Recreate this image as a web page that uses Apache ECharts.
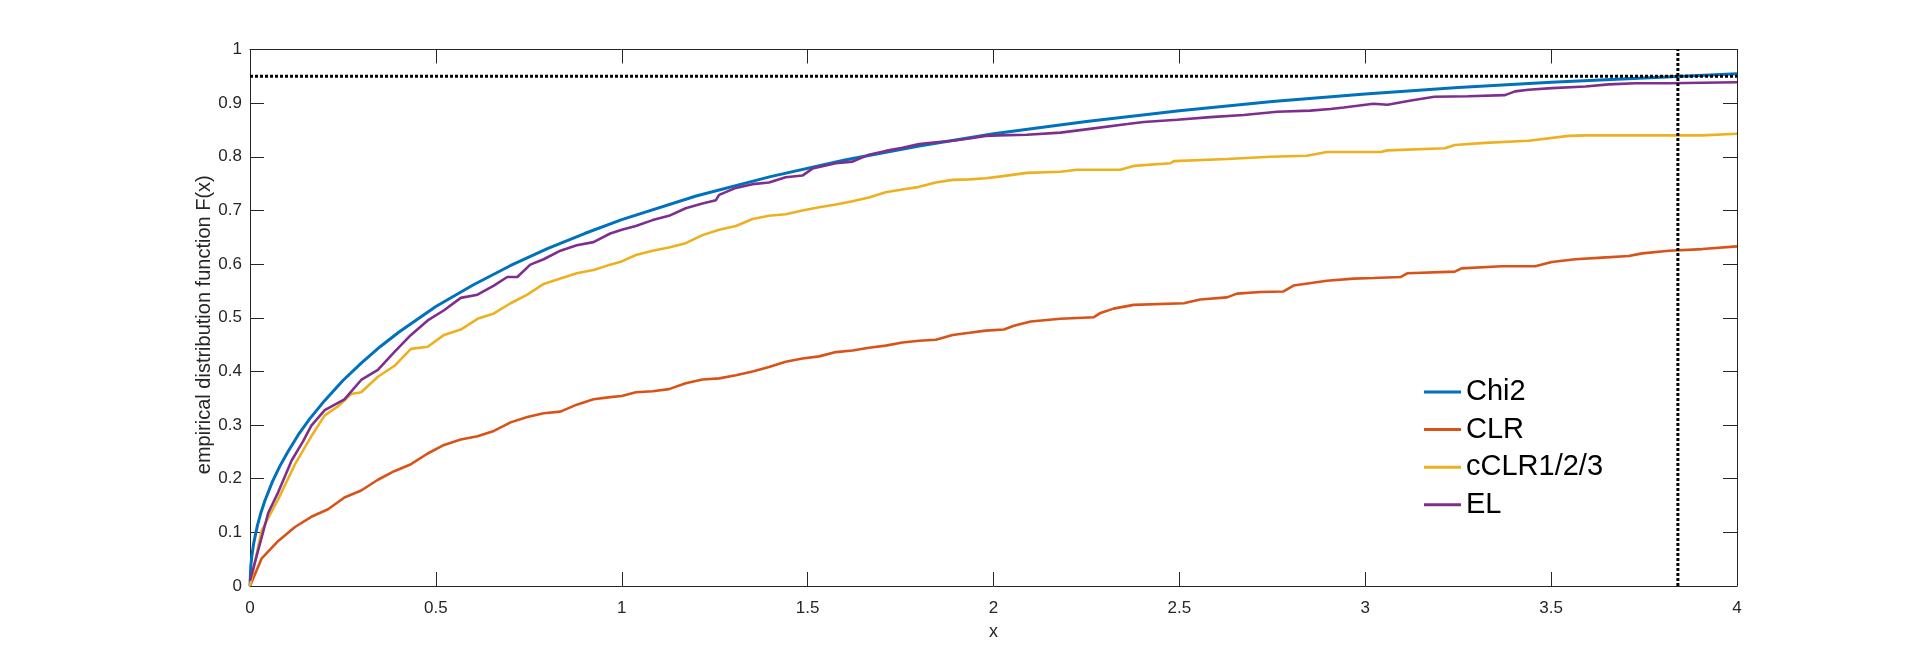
<!DOCTYPE html>
<html>
<head>
<meta charset="utf-8">
<script src="https://cdn.jsdelivr.net/npm/echarts@6/dist/echarts.min.js"></script>
<style>
html,body{margin:0;padding:0;background:#fff;}
#chart{width:1920px;height:659px;}
</style>
</head>
<body>
<div id="chart"></div>
<script>
// ---------- data ----------
const seriesNames = ['Chi2', 'CLR', 'cCLR1/2/3', 'EL'];
const xTicks = [0, 0.5, 1, 1.5, 2, 2.5, 3, 3.5, 4];
const yTicks = [0, 0.1, 0.2, 0.3, 0.4, 0.5, 0.6, 0.7, 0.8, 0.9, 1];

const chiX = [0,0.002,0.005,0.01,0.02,0.03,0.04,0.06,0.08,0.1,0.13,0.16,0.2,0.25,0.3,0.35,0.4,0.5,0.6,0.7,0.8,0.9,1.0,1.2,1.4,1.6,1.8,2.0,2.25,2.5,2.75,3.0,3.25,3.5,3.75,4.0];
const chiY = [0,0.036,0.056,0.080,0.113,0.138,0.159,0.194,0.223,0.248,0.282,0.311,0.345,0.383,0.416,0.446,0.473,0.521,0.561,0.597,0.629,0.657,0.683,0.727,0.763,0.794,0.820,0.843,0.866,0.886,0.903,0.917,0.929,0.939,0.947,0.955];

const clrX = [0,0.031,0.076,0.121,0.165,0.210,0.254,0.299,0.344,0.388,0.433,0.478,0.522,0.567,0.612,0.656,0.701,0.746,0.790,0.835,0.879,0.924,0.969,1.0,1.038,1.083,1.127,1.172,1.217,1.262,1.307,1.352,1.396,1.441,1.486,1.531,1.576,1.621,1.665,1.710,1.755,1.800,1.845,1.890,1.935,1.979,2.028,2.055,2.10,2.18,2.27,2.288,2.323,2.377,2.512,2.556,2.628,2.655,2.718,2.78,2.807,2.897,2.969,3.022,3.096,3.114,3.241,3.259,3.367,3.457,3.502,3.565,3.637,3.709,3.745,3.817,3.907,4.0];
const clrY = [0,0.051,0.084,0.110,0.129,0.143,0.165,0.178,0.198,0.214,0.227,0.247,0.263,0.273,0.279,0.289,0.305,0.315,0.322,0.325,0.338,0.348,0.352,0.354,0.361,0.363,0.367,0.378,0.385,0.387,0.393,0.400,0.408,0.418,0.424,0.428,0.436,0.439,0.444,0.448,0.454,0.457,0.459,0.468,0.472,0.476,0.478,0.485,0.493,0.498,0.501,0.509,0.517,0.524,0.527,0.534,0.538,0.545,0.548,0.549,0.560,0.569,0.573,0.574,0.576,0.583,0.586,0.592,0.596,0.596,0.604,0.609,0.612,0.615,0.620,0.625,0.628,0.633];

const cclrX = [0,0.031,0.076,0.121,0.165,0.201,0.237,0.272,0.299,0.344,0.388,0.433,0.478,0.522,0.567,0.612,0.656,0.701,0.746,0.790,0.835,0.879,0.924,0.969,1.0,1.038,1.083,1.127,1.172,1.217,1.262,1.307,1.352,1.396,1.441,1.486,1.531,1.576,1.621,1.665,1.710,1.755,1.800,1.845,1.890,1.935,1.979,2.015,2.09,2.18,2.225,2.341,2.377,2.476,2.485,2.628,2.745,2.843,2.897,3.042,3.06,3.214,3.241,3.322,3.439,3.547,3.592,3.907,4.0];
const cclrY = [0,0.103,0.162,0.227,0.279,0.318,0.335,0.358,0.361,0.390,0.410,0.442,0.446,0.468,0.478,0.498,0.508,0.527,0.543,0.563,0.573,0.583,0.589,0.599,0.605,0.617,0.625,0.631,0.639,0.654,0.664,0.671,0.684,0.690,0.693,0.700,0.706,0.711,0.717,0.724,0.734,0.739,0.744,0.752,0.757,0.758,0.760,0.763,0.770,0.772,0.776,0.776,0.783,0.788,0.792,0.796,0.800,0.802,0.809,0.809,0.812,0.816,0.822,0.826,0.830,0.839,0.840,0.840,0.843];

const elX = [0,0.049,0.076,0.112,0.143,0.165,0.201,0.254,0.299,0.344,0.388,0.433,0.478,0.522,0.567,0.612,0.656,0.692,0.719,0.754,0.790,0.835,0.879,0.924,0.969,1.0,1.038,1.083,1.127,1.172,1.217,1.253,1.262,1.307,1.352,1.396,1.441,1.486,1.513,1.576,1.621,1.665,1.710,1.755,1.800,1.845,1.890,1.935,1.979,2.015,2.09,2.18,2.27,2.36,2.404,2.494,2.583,2.673,2.763,2.852,2.906,2.942,3.022,3.06,3.123,3.186,3.277,3.376,3.403,3.439,3.502,3.592,3.655,3.727,3.817,3.907,4.0];
const elY = [0.01,0.136,0.175,0.234,0.270,0.299,0.328,0.348,0.384,0.403,0.436,0.468,0.495,0.514,0.537,0.543,0.560,0.576,0.576,0.599,0.609,0.625,0.635,0.641,0.657,0.664,0.671,0.682,0.690,0.704,0.713,0.719,0.729,0.742,0.749,0.752,0.762,0.765,0.778,0.788,0.791,0.804,0.811,0.817,0.824,0.827,0.830,0.834,0.839,0.840,0.841,0.845,0.853,0.861,0.865,0.869,0.874,0.878,0.884,0.886,0.889,0.892,0.899,0.897,0.905,0.912,0.913,0.915,0.922,0.925,0.928,0.931,0.935,0.937,0.937,0.938,0.939];

const refLevel = 0.95;      // horizontal dotted line
const critValue = 3.841;    // vertical dotted line
const xRange = [0, 4];
const yRange = [0, 1];

// ---------- chart ----------
const colors = ['#0072BD', '#D95319', '#EDB120', '#7E2F8E'];
const zip = (xs, ys) => xs.map((x, i) => [x, ys[i]]);
const textColor = '#262626';
const font = 'Liberation Sans, Arial, Helvetica, sans-serif';

const chart = echarts.init(document.getElementById('chart'), null, {renderer: 'canvas'});

const axisCommon = () => ({
  axisLine: {show: true, onZero: false, lineStyle: {color: textColor, width: 1}},
  axisTick: {show: true, inside: true, length: 14, lineStyle: {color: textColor, width: 1}},
  splitLine: {show: false}
});

const lineSeries = (name, data, color, width, z) => ({
  name, type: 'line', data, showSymbol: false, symbol: 'none',
  lineStyle: {color, width}, itemStyle: {color}, z, animation: false,
  smooth: false
});

chart.setOption({
  animation: false,
  backgroundColor: '#ffffff',
  grid: {left: 250, right: 183, top: 49.5, bottom: 73, containLabel: false},
  xAxis: [
    Object.assign({
      type: 'value', min: xRange[0], max: xRange[1], interval: 0.5, position: 'bottom',
      name: 'x', nameLocation: 'middle', nameGap: 37,
      nameTextStyle: {color: textColor, fontSize: 18, fontFamily: font},
      axisLabel: {color: textColor, fontSize: 17, fontFamily: font, margin: 14,
        formatter: v => String(v)}
    }, axisCommon()),
    Object.assign({
      type: 'value', min: xRange[0], max: xRange[1], interval: 0.5, position: 'top',
      axisLabel: {show: false}
    }, axisCommon())
  ],
  yAxis: [
    Object.assign({
      type: 'value', min: yRange[0], max: yRange[1], interval: 0.1, position: 'left',
      name: 'empirical distribution function F(x)', nameLocation: 'middle', nameGap: 36,
      nameMoveOverlap: false,
      nameTextStyle: {color: textColor, fontSize: 20, fontFamily: font, padding: [0, 14, 0, 0]},
      axisLabel: {color: textColor, fontSize: 17, fontFamily: font, margin: 8,
        formatter: v => String(Math.round(v * 10) / 10)}
    }, axisCommon()),
    Object.assign({
      type: 'value', min: yRange[0], max: yRange[1], interval: 0.1, position: 'right',
      axisLabel: {show: false}
    }, axisCommon())
  ],
  legend: {
    show: true, orient: 'vertical', left: 1419, top: 372,
    data: seriesNames, icon: 'rect', itemWidth: 37, itemHeight: 3, itemGap: 7.6,
    textStyle: {color: '#000', fontSize: 29, fontFamily: font, lineHeight: 30},
    selectedMode: false
  },
  series: [
    lineSeries(seriesNames[0], zip(chiX, chiY), colors[0], 3, 2),
    lineSeries(seriesNames[1], zip(clrX, clrY), colors[1], 2.6, 3),
    lineSeries(seriesNames[2], zip(cclrX, cclrY), colors[2], 2.6, 4),
    lineSeries(seriesNames[3], zip(elX, elY), colors[3], 2.6, 5),
    {
      name: 'ref95', type: 'line', data: [[xRange[0], refLevel], [xRange[1], refLevel]],
      showSymbol: false, symbol: 'none', z: 10,
      lineStyle: {color: '#000', width: 3, type: [3, 2]}
    },
    {
      name: 'crit', type: 'line', data: [[critValue, yRange[0]], [critValue, yRange[1]]],
      showSymbol: false, symbol: 'none', z: 10,
      lineStyle: {color: '#000', width: 3, type: [3, 2]}
    }
  ]
});
</script>
</body>
</html>
